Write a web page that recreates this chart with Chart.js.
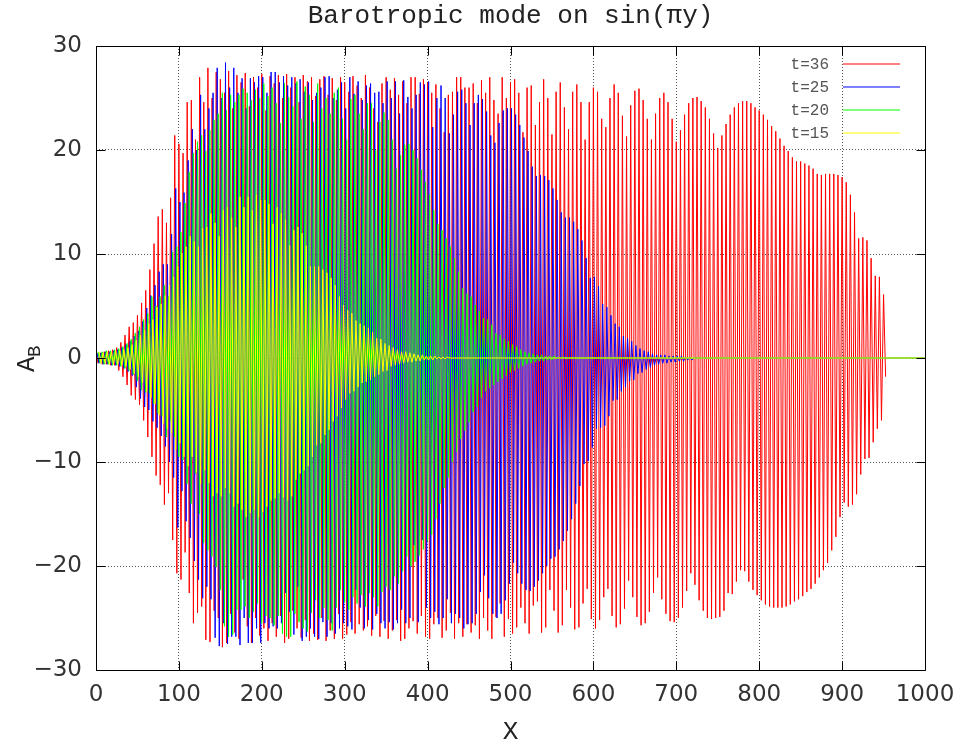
<!DOCTYPE html>
<html lang="en">
<head>
<meta charset="UTF-8">
<title>Barotropic mode on sin(πy)</title>
<script src="https://cdn.jsdelivr.net/npm/chart.js"></script>
<style>
  body { margin: 0; background: #fff; }
  #wrap { width: 959px; height: 744px; }
</style>
</head>
<body>
<div id="wrap"><canvas id="myChart" width="959" height="744"></canvas></div>
<script>
// series labels / colours (gnuplot default order: red, blue, green, yellow)
const seriesNames = ['t=36', 't=25', 't=20', 't=15'];
const seriesColors = ['#ff0000', '#0000ff', '#00ff00', '#ffff00'];
const halfStep = 2.5;               // x distance between a crest and the following trough
const phaseShift = [0, 1.2, 2.4, 3.6];
const xTicks = [0, 100, 200, 300, 400, 500, 600, 700, 800, 900, 1000];
const yTicks = [-30, -20, -10, 0, 10, 20, 30];

// crest / trough heights, one value per wave (x = 0, 5, 10, ...)
const crest36 = [
  0.6, 0.5, 0.6, 0.7, 0.8, 1.0, 1.5, 2.2, 3.0, 3.4,
  4.1, 5.3, 6.5, 8.5, 11.0, 13.6, 14.3, 13.0, 15.4, 21.4,
  20.6, 19.7, 24.6, 24.8, 21.0, 27.0, 24.6, 27.9, 25.0, 27.5,
  26.8, 25.5, 27.6, 24.0, 27.2, 26.5, 27.4, 24.2, 27.0, 26.0,
  27.3, 23.8, 27.1, 26.4, 27.2, 25.0, 27.3, 26.0, 27.0, 24.6,
  27.2, 26.6, 27.0, 25.2, 26.8, 27.1, 25.3, 26.9, 24.8, 27.0,
  26.5, 25.6, 27.1, 26.2, 25.0, 27.2, 26.0, 24.0, 22.7, 26.4,
  27.0, 25.8, 26.9, 25.3, 26.6, 24.5, 27.0, 27.0, 25.4, 26.8,
  26.5, 25.5, 26.3, 24.0, 21.7, 25.3, 25.6, 27.0, 27.0, 26.0,
  26.0, 26.4, 24.5, 26.7, 25.5, 27.0, 24.8, 23.5, 27.0, 25.0,
  26.5, 26.8, 25.5, 21.7, 26.0, 26.2, 22.4, 24.6, 26.8, 25.0,
  21.5, 25.6, 26.5, 24.1, 22.0, 25.6, 26.3, 24.6, 21.0, 24.6,
  26.0, 25.6, 23.0, 22.2, 25.0, 26.3, 25.5, 23.3, 21.3, 24.3,
  25.7, 25.9, 24.8, 23.0, 21.0, 23.5, 25.0, 25.5, 24.6, 23.0,
  20.8, 21.9, 23.4, 24.5, 25.0, 25.1, 24.7, 24.1, 23.0, 21.6,
  20.2, 21.4, 22.5, 23.4, 24.1, 24.5, 24.7, 24.7, 24.5, 24.1,
  23.8, 23.4, 22.9, 22.3, 21.8, 21.1, 20.4, 19.9, 19.3, 18.9,
  18.9, 18.7, 18.5, 18.2, 17.7, 17.6, 17.7, 17.7, 17.7, 17.6,
  17.4, 16.9, 15.7, 14.0, 11.5, 11.6, 11.3, 9.6, 7.9, 7.8,
  6.1
];
const trough36 = [
  -0.5, -0.6, -0.6, -0.7, -0.7, -1.2, -1.8, -2.6, -3.6, -4.0,
  -4.5, -6.0, -7.6, -9.5, -11.3, -12.2, -14.1, -13.0, -17.5, -20.7,
  -21.3, -18.7, -22.6, -25.5, -24.5, -23.9, -27.1, -27.3, -24.3, -25.0,
  -27.8, -27.4, -24.6, -26.4, -27.0, -21.3, -25.8, -27.4, -25.0, -26.7,
  -26.0, -27.2, -25.5, -26.8, -24.8, -27.4, -27.0, -24.3, -26.0, -26.9,
  -25.2, -27.2, -26.5, -27.1, -25.0, -27.2, -26.2, -27.0, -24.6, -27.0,
  -26.6, -25.4, -26.5, -25.6, -26.2, -25.8, -26.7, -24.8, -26.8, -25.3,
  -27.0, -26.2, -25.2, -27.2, -27.0, -26.0, -25.3, -26.5, -24.8, -26.8,
  -27.0, -25.6, -25.0, -26.9, -26.2, -24.5, -27.0, -25.5, -26.8, -25.6,
  -26.4, -25.7, -27.0, -25.0, -26.2, -27.0, -24.9, -23.6, -26.8, -25.1,
  -26.5, -25.9, -24.0, -25.5, -26.5, -23.8, -23.4, -26.4, -25.9, -22.3,
  -24.3, -26.4, -25.7, -22.3, -24.0, -26.1, -25.9, -23.6, -22.2, -25.1,
  -26.0, -25.2, -23.0, -22.2, -24.8, -25.9, -25.6, -24.1, -21.4, -23.0,
  -24.9, -25.7, -25.5, -24.4, -22.6, -21.1, -23.2, -24.6, -25.3, -25.4,
  -25.0, -24.0, -22.4, -20.7, -21.8, -23.3, -24.3, -25.0, -25.1, -25.0,
  -24.9, -24.3, -22.6, -22.7, -21.5, -20.4, -20.5, -21.5, -22.3, -22.8,
  -23.3, -23.7, -23.9, -24.0, -24.0, -24.0, -23.9, -23.7, -23.4, -23.2,
  -22.9, -22.5, -22.2, -21.7, -21.1, -20.4, -19.7, -18.5, -17.2, -15.3,
  -13.9, -14.3, -14.1, -13.1, -11.2, -9.7, -9.6, -8.1, -6.8, -6.0,
  -1.8
];

const crest25 = [
  0.5, 0.5, 0.6, 0.6, 0.7, 0.8, 1.0, 1.3, 1.6, 2.1,
  2.6, 3.5, 4.8, 6.0, 7.0, 8.3, 9.0, 9.0, 11.9, 16.3,
  15.0, 15.9, 19.0, 22.0, 20.0, 25.3, 22.0, 24.0, 25.5, 27.9,
  25.0, 28.4, 26.0, 27.9, 25.5, 26.9, 24.0, 26.9, 26.5, 27.1,
  27.0, 25.5, 27.5, 27.5, 26.5, 27.1, 26.2, 27.0, 26.4, 26.8,
  25.6, 26.5, 24.8, 25.5, 26.0, 27.0, 27.1, 25.0, 25.8, 26.5,
  24.0, 27.0, 25.4, 26.6, 24.8, 26.2, 26.4, 25.5, 25.6, 24.5,
  26.6, 25.0, 26.6, 23.5, 26.7, 25.1, 24.0, 25.3, 26.5, 26.3,
  26.6, 22.2, 25.0, 26.2, 25.0, 21.6, 23.4, 25.6, 25.8, 24.5,
  22.4, 24.5, 25.3, 24.9, 23.7, 21.4, 20.7, 22.6, 23.8, 24.0,
  24.0, 23.4, 22.4, 21.2, 19.9, 18.4, 17.5, 17.6, 17.5, 17.1,
  16.3, 15.2, 14.0, 13.5, 13.5, 13.1, 12.4, 11.3, 9.6, 7.7,
  7.8, 6.9, 5.2, 4.9, 4.1, 3.3, 3.0, 2.1, 1.9, 1.6,
  1.2, 0.9, 0.7, 0.6, 0.4, 0.3, 0.3, 0.3, 0.2, 0.2,
  0.2, 0.2, 0.1, 0.1
];
const trough25 = [
  -0.5, -0.6, -0.6, -0.7, -0.7, -0.8, -1.0, -1.3, -1.7, -2.8,
  -3.9, -4.7, -5.0, -6.1, -6.7, -7.5, -8.5, -10.0, -11.5, -16.3,
  -12.8, -15.7, -17.3, -19.5, -21.3, -23.1, -22.0, -23.2, -26.9, -27.7,
  -25.5, -27.5, -26.8, -26.8, -27.6, -25.0, -27.4, -27.4, -26.0, -27.4,
  -25.5, -26.0, -25.8, -26.0, -25.5, -22.6, -24.4, -26.6, -22.0, -27.2,
  -26.8, -26.0, -26.8, -27.0, -25.4, -26.8, -25.5, -26.5, -26.0, -25.5,
  -25.8, -26.1, -22.3, -24.0, -26.0, -25.2, -26.1, -24.6, -25.5, -26.0,
  -25.4, -26.1, -25.5, -24.2, -25.5, -25.0, -18.0, -25.4, -17.5, -24.0,
  -25.0, -24.4, -25.6, -25.0, -23.2, -25.5, -24.6, -25.0, -26.0, -25.6,
  -25.5, -24.6, -22.5, -20.9, -23.1, -24.6, -25.0, -24.6, -23.3, -21.7,
  -19.7, -20.7, -21.7, -22.3, -22.4, -22.0, -21.4, -20.7, -20.0, -19.3,
  -19.1, -18.4, -17.6, -16.6, -15.5, -14.0, -12.3, -10.2, -9.9, -8.6,
  -6.8, -6.7, -6.5, -5.6, -4.1, -4.0, -3.2, -2.8, -2.2, -2.1,
  -1.5, -1.4, -1.1, -0.9, -0.7, -0.6, -0.5, -0.5, -0.4, -0.4,
  -0.3, -0.3, -0.2, -0.2
];

const crest20 = [
  0.6, 0.6, 0.7, 0.7, 0.8, 0.9, 1.1, 1.4, 1.8, 2.4,
  3.0, 3.7, 4.3, 5.9, 5.0, 5.9, 7.0, 5.9, 10.2, 10.7,
  12.1, 14.9, 17.9, 19.7, 20.8, 21.4, 19.9, 21.9, 22.9, 23.5,
  25.5, 23.8, 25.3, 24.6, 25.3, 25.9, 25.5, 24.8, 25.8, 25.0,
  26.4, 25.2, 26.0, 24.5, 22.6, 26.4, 25.1, 24.2, 26.6, 23.0,
  26.1, 25.3, 22.7, 26.4, 24.0, 25.0, 23.5, 25.5, 26.0, 23.0,
  21.0, 24.9, 25.3, 23.5, 22.0, 24.5, 24.5, 20.0, 22.7, 23.6,
  22.9, 21.0, 18.2, 19.5, 20.5, 20.6, 20.0, 19.2, 18.1, 16.9,
  15.7, 14.2, 12.9, 12.3, 11.5, 10.7, 9.6, 8.3, 6.7, 6.2,
  5.9, 5.1, 4.5, 3.8, 3.7, 3.2, 2.4, 2.2, 1.8, 1.6,
  1.3, 1.1, 0.8, 0.6, 0.5, 0.4, 0.3, 0.3, 0.2, 0.2,
  0.2, 0.1, 0.1
];
const trough20 = [
  -0.5, -0.6, -0.6, -0.7, -0.7, -0.8, -1.0, -1.2, -1.6, -2.2,
  -3.1, -3.3, -3.4, -4.4, -5.3, -5.6, -7.6, -6.0, -7.6, -9.5,
  -9.8, -12.1, -14.0, -11.1, -15.0, -17.8, -18.5, -19.1, -20.1, -22.3,
  -25.8, -26.8, -26.6, -24.2, -24.2, -23.9, -25.0, -24.4, -23.6, -25.5,
  -24.8, -25.0, -25.7, -24.8, -26.5, -26.8, -26.8, -24.6, -25.4, -26.0,
  -26.3, -24.5, -23.3, -25.0, -24.0, -25.2, -26.2, -24.0, -22.3, -23.5,
  -24.2, -23.0, -23.6, -22.8, -23.9, -22.6, -23.0, -23.9, -22.5, -22.0,
  -22.3, -21.0, -21.7, -20.5, -19.1, -20.0, -19.6, -19.0, -18.4, -17.6,
  -17.0, -15.5, -14.0, -12.5, -11.5, -10.0, -9.0, -7.8, -7.0, -6.2,
  -5.2, -4.7, -3.8, -3.2, -2.9, -2.6, -2.3, -2.0, -1.7, -1.4,
  -1.2, -1.0, -0.8, -0.6, -0.5, -0.4, -0.3, -0.3, -0.2, -0.2,
  -0.1, -0.1
];

const crest15 = [
  0.6, 0.5, 0.6, 0.6, 0.7, 0.7, 0.8, 1.0, 1.3, 1.7,
  2.2, 2.7, 3.3, 3.7, 4.9, 5.2, 6.0, 7.0, 7.8, 8.8,
  10.1, 10.7, 11.7, 11.2, 10.7, 12.5, 12.6, 13.9, 13.0, 11.7,
  14.2, 14.5, 13.5, 12.6, 15.5, 14.5, 15.5, 14.2, 15.7, 15.2,
  15.2, 14.8, 12.9, 14.5, 13.9, 13.3, 10.8, 12.3, 12.6, 12.0,
  10.8, 8.8, 8.8, 8.8, 8.5, 8.2, 7.7, 7.0, 5.9, 5.1,
  4.6, 4.3, 3.6, 3.3, 3.1, 2.9, 2.5, 1.9, 1.8, 1.4,
  1.2, 1.0, 0.8, 0.6, 0.6, 0.5, 0.4, 0.3, 0.3, 0.2,
  0.2, 0.2, 0.1, 0.1, 0.1
];
const trough15 = [
  -0.5, -0.5, -0.6, -0.6, -0.6, -0.7, -0.8, -1.1, -1.5, -1.8,
  -2.4, -3.2, -3.8, -4.4, -5.5, -6.3, -6.8, -7.2, -8.8, -8.2,
  -9.5, -10.4, -9.5, -11.0, -12.1, -10.8, -12.0, -13.3, -13.0, -13.3,
  -12.5, -13.0, -14.3, -14.0, -14.6, -15.3, -14.9, -14.6, -15.3, -14.8,
  -14.3, -13.7, -13.5, -13.0, -13.4, -13.7, -13.3, -11.7, -11.1, -10.8,
  -10.4, -9.5, -8.4, -8.2, -7.4, -6.9, -6.1, -5.6, -4.8, -4.0,
  -3.4, -3.2, -2.8, -2.4, -2.3, -2.1, -1.8, -1.6, -1.3, -1.2,
  -0.8, -0.7, -0.6, -0.5, -0.4, -0.4, -0.3, -0.3, -0.2, -0.2,
  -0.2, -0.1, -0.1, -0.1
];

// crest, trough, crest, trough ... then flat zero to the right edge
function makePoints(crests, troughs, shift, flatToEnd) {
  const pts = [];
  const n = Math.max(crests.length, troughs.length);
  for (let i = 0; i < n; i++) {
    if (i < crests.length) pts.push({ x: shift + 2 * halfStep * i, y: crests[i] });
    if (i < troughs.length) pts.push({ x: shift + 2 * halfStep * i + halfStep, y: troughs[i] });
  }
  if (flatToEnd) {
    pts.push({ x: pts[pts.length - 1].x + halfStep, y: 0 });
    pts.push({ x: 1000, y: 0 });
  }
  return pts;
}

const allCrests = [crest36, crest25, crest20, crest15];
const allTroughs = [trough36, trough25, trough20, trough15];

const datasets = seriesNames.map((name, i) => ({
  label: name,
  data: makePoints(allCrests[i], allTroughs[i], phaseShift[i], i > 0),
  borderColor: seriesColors[i],
  borderWidth: 1,
  pointRadius: 0,
  tension: 0,
  fill: false,
  order: seriesNames.length - i   // yellow drawn on top, like gnuplot
}));

const monoFont = '"Liberation Mono", "DejaVu Sans Mono", monospace';

// frame, tick marks, title, axis titles and legend the way gnuplot draws them
const gnuplotLook = {
  id: 'gnuplotLook',
  afterDatasetsDraw(chart) {
    const { ctx, chartArea: a, scales: { x, y } } = chart;
    const L = Math.round(a.left) + 0.5, R = Math.round(a.right) + 0.5;
    const T = Math.round(a.top) + 0.5, B = Math.round(a.bottom) + 0.5;
    ctx.save();
    ctx.strokeStyle = '#000';
    ctx.lineWidth = 1;
    ctx.beginPath();
    ctx.rect(L, T, R - L, B - T);
    xTicks.forEach(v => {
      const px = Math.round(x.getPixelForValue(v)) + 0.5;
      ctx.moveTo(px, B); ctx.lineTo(px, B - 9);
      ctx.moveTo(px, T); ctx.lineTo(px, T + 9);
    });
    yTicks.forEach(v => {
      const py = Math.round(y.getPixelForValue(v)) + 0.5;
      ctx.moveTo(L, py); ctx.lineTo(L + 9, py);
      ctx.moveTo(R, py); ctx.lineTo(R - 9, py);
    });
    ctx.stroke();
    ctx.restore();
  },
  afterDraw(chart) {
    const { ctx, chartArea: a } = chart;
    const cx = (a.left + a.right) / 2;
    ctx.save();
    ctx.fillStyle = '#222';
    ctx.textAlign = 'center';
    ctx.textBaseline = 'alphabetic';
    ctx.font = '26px ' + monoFont;
    ctx.fillText('Barotropic mode on sin(\u03C0y)', cx, 23);
    ctx.fillText('X', cx, 739);

    // A_B, rotated
    ctx.save();
    ctx.translate(34, 372);
    ctx.rotate(-Math.PI / 2);
    ctx.textAlign = 'left';
    ctx.font = '26px ' + monoFont;
    ctx.fillText('A', 0, 0);
    ctx.font = '19px ' + monoFont;
    ctx.fillText('B', 15, 6);
    ctx.restore();

    // legend inside the plot, top right
    ctx.font = '16px ' + monoFont;
    ctx.fillStyle = '#555';
    ctx.textAlign = 'right';
    ctx.textBaseline = 'middle';
    seriesNames.forEach((name, i) => {
      const yy = 64 + i * 23;
      ctx.fillText(name, 829, yy + 1);
      ctx.strokeStyle = seriesColors[i];
      ctx.lineWidth = 1;
      ctx.beginPath();
      ctx.moveTo(843, yy);
      ctx.lineTo(900, yy);
      ctx.stroke();
    });
    ctx.restore();
  }
};

const ctx = document.getElementById('myChart').getContext('2d');
const myChart = new Chart(ctx, {
  type: 'line',
  data: { datasets: datasets },
  options: {
    responsive: false,
    animation: false,
    events: [],
    parsing: false,
    layout: { padding: { top: 46, right: 34, left: 0, bottom: 0 } },
    scales: {
      x: {
        type: 'linear',
        min: 0,
        max: 1000,
        afterFit: s => { s.height = 74; s.paddingRight = 0; s.paddingLeft = 0; },
        afterBuildTicks: s => { s.ticks = xTicks.map(v => ({ value: v })); },
        ticks: {
          color: '#333',
          font: { family: 'DejaVu Sans', size: 23 },
          padding: 11,
          maxRotation: 0,
          autoSkip: false,
          callback: v => String(v)
        },
        grid: { color: '#555', lineWidth: 1, drawTicks: false },
        border: { display: false, dash: [1, 2] }
      },
      y: {
        type: 'linear',
        min: -30,
        max: 30,
        afterFit: s => { s.width = 96; s.paddingTop = 0; s.paddingBottom = 0; },
        afterBuildTicks: s => { s.ticks = yTicks.map(v => ({ value: v })); },
        ticks: {
          color: '#333',
          font: { family: 'DejaVu Sans', size: 23 },
          padding: 14,
          autoSkip: false,
          callback: v => String(v).replace('-', '\u2212')
        },
        grid: { color: '#555', lineWidth: 1, drawTicks: false },
        border: { display: false, dash: [1, 2] }
      }
    },
    plugins: {
      legend: { display: false },
      title: { display: false },
      tooltip: { enabled: false }
    }
  },
  plugins: [gnuplotLook]
});
</script>
</body>
</html>
